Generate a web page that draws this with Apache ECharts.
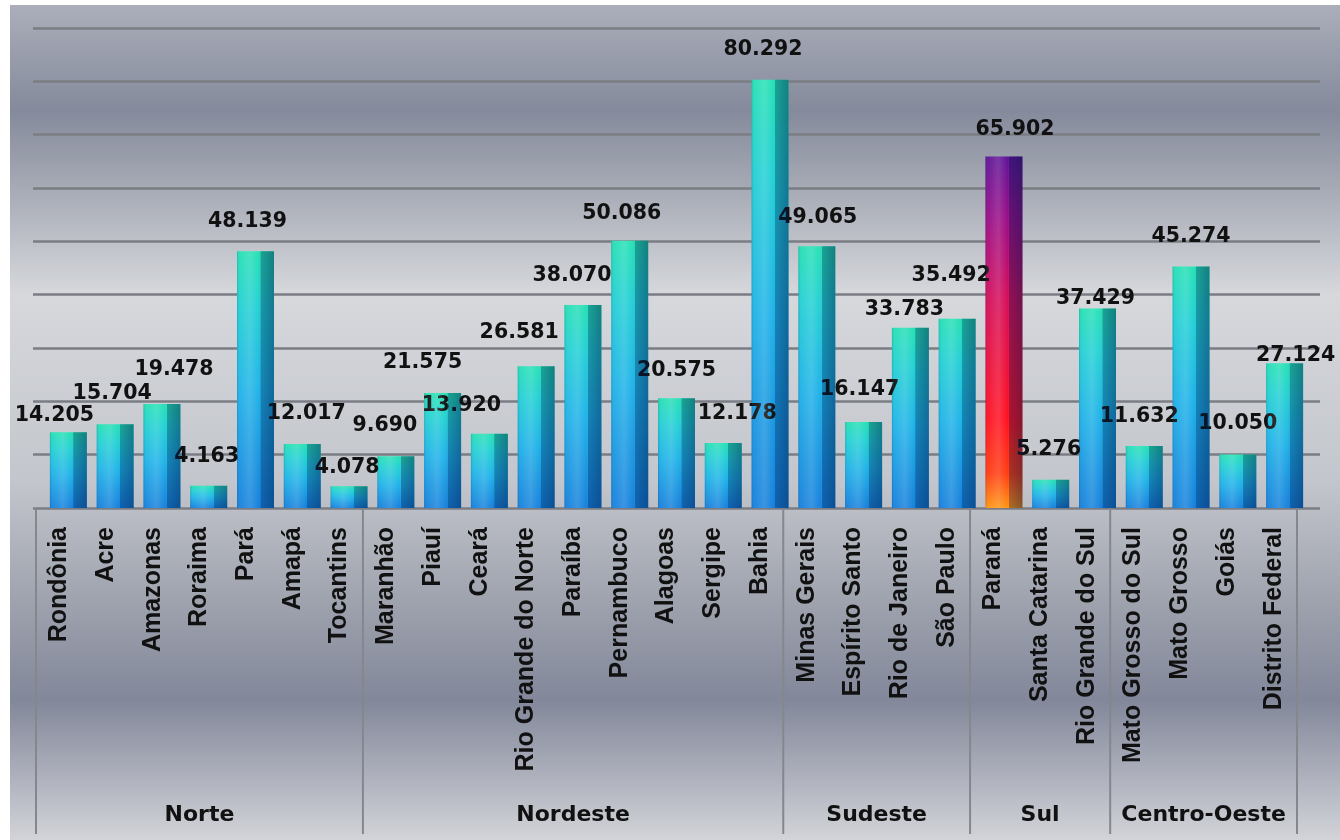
<!DOCTYPE html>
<html><head><meta charset="utf-8">
<script src="https://cdn.jsdelivr.net/npm/echarts@6/dist/echarts.min.js"></script>
<style>html,body{margin:0;padding:0;background:#fff}#c{width:1340px;height:840px}</style>
</head><body><div id="c"></div>
<script>
// ---- data ----
const categories = ['Rondônia','Acre','Amazonas','Roraima','Pará','Amapá','Tocantins',
  'Maranhão','Piauí','Ceará','Rio Grande do Norte','Paraíba','Pernambuco','Alagoas','Sergipe','Bahia',
  'Minas Gerais','Espírito Santo','Rio de Janeiro','São Paulo',
  'Paraná','Santa Catarina','Rio Grande do Sul',
  'Mato Grosso do Sul','Mato Grosso','Goiás','Distrito Federal'];
const values = [14205,15704,19478,4163,48139,12017,4078,
  9690,21575,13920,26581,38070,50086,20575,12178,80292,
  49065,16147,33783,35492,
  65902,5276,37429,
  11632,45274,10050,27124];
const regions = ['Norte','Nordeste','Sudeste','Sul','Centro-Oeste'];
const regionSizes = [7,9,4,3,4];
const highlighted = 'Paraná';
const yMin = 0, yMax = 90000, yStep = 10000;

// ---- layout: per-label nudges [dx, dy] in px (label placement as in the reference) ----
const labelNudge = [[-14,13],[-3,-1],[12,-5],[-2,0],[-8,0],[4,-1],[-2,11],
  [-11,-1],[-20,-1],[-28,1],[-17,-4],[-11,0],[-8,2],[0,2],[14,0],[-7,-1],
  [1,1],[-4,-3],[-6,11],[-6,-14],
  [11,3],[-2,-1],[-2,20],
  [-5,0],[0,0],[0,-1],[11,22]];

function fmt(v){ return String(v).replace(/\B(?=(\d{3})+(?!\d))/g,'.'); }

const G = echarts.graphic.LinearGradient;
const baseFill = new G(0,0,0,1,[
  {offset:0,color:'#24e0b4'},{offset:0.22,color:'#22d0d4'},{offset:0.55,color:'#1eb2e8'},{offset:1,color:'#1580dc'}]);
const hiFill = new G(0,0,0,1,[
  {offset:0,color:'#5e1296'},{offset:0.18,color:'#9a0c86'},{offset:0.4,color:'#d40c5a'},
  {offset:0.75,color:'#ff1020'},{offset:0.9,color:'#ff3a10'},{offset:1,color:'#ff9412'}]);
const shade = new G(0,0,1,0,[
  {offset:0,color:'rgba(0,40,90,0.18)'},{offset:0.08,color:'rgba(255,255,255,0.05)'},
  {offset:0.35,color:'rgba(255,255,255,0.16)'},{offset:0.62,color:'rgba(255,255,255,0.0)'},
  {offset:0.64,color:'rgba(0,25,70,0.3)'},{offset:1,color:'rgba(0,25,70,0.48)'}]);

const barData = values.map((v,i)=>({
  value: v,
  itemStyle: {color: categories[i]===highlighted ? hiFill : baseFill},
  label: {offset: labelNudge[i]}
}));

let s = 0;
const regionData = regionSizes.map((n,i)=>{ const d=[s, s+n-1]; s+=n; return d; });

const gTop = 28, gBottom = 332;
const option = {
  animation: false,
  backgroundColor: '#ffffff',
  graphic: [{
    type:'rect', z:-100, silent:true,
    shape:{x:10,y:5,width:1330,height:835},
    style:{fill:new G(0,0,0,1,[
      {offset:0,color:'#abafba'},{offset:0.126,color:'#858a9c'},{offset:0.21,color:'#a3a7b2'},
      {offset:0.347,color:'#d6d8dc'},{offset:0.569,color:'#c3c6cc'},{offset:0.713,color:'#9fa3ae'},
      {offset:0.832,color:'#82879a'},{offset:1,color:'#d2d4d8'}])}
  }],
  grid: [
    {left:33, right:20, top:gTop, bottom:gBottom},
    {left:45, right:32, top:gTop, bottom:gBottom},
    {left:36, right:43, top:gTop, bottom:gBottom}
  ],
  xAxis: [
    {gridIndex:0, type:'category', data:categories, show:false},
    {gridIndex:1, type:'category', data:categories, show:false},
    {gridIndex:2, type:'category', data:categories,
      axisLine:{show:false}, axisTick:{show:false},
      axisLabel:{interval:0, rotate:90, margin:19, color:'#111',
        fontFamily:'Liberation Sans', fontWeight:'bold', fontSize:25}}
  ],
  yAxis: [
    {gridIndex:0, type:'value', min:yMin, max:yMax, interval:yStep,
      axisLine:{show:false}, axisTick:{show:false}, axisLabel:{show:false},
      splitLine:{lineStyle:{color:'#7b7d84', width:2.5}}},
    {gridIndex:1, type:'value', min:yMin, max:yMax, interval:yStep, show:false, splitLine:{show:false}},
    {gridIndex:2, type:'value', min:yMin, max:yMax, interval:yStep, show:false, splitLine:{show:false}}
  ],
  series: [
    {type:'bar', xAxisIndex:1, yAxisIndex:1, data:barData, barWidth:37, z:3,
      label:{show:true, position:'top', distance:19, color:'#111',
        fontFamily:'DejaVu Sans', fontWeight:'bold', fontSize:20.5,
        formatter:p=>fmt(p.value)}},
    {type:'bar', xAxisIndex:1, yAxisIndex:1, data:values, barWidth:37, barGap:'-100%', z:4,
      silent:true, itemStyle:{color:shade}, label:{show:false}},
    {type:'custom', xAxisIndex:2, yAxisIndex:2, silent:true, clip:false, z:5,
      data: regionData, encode:{x:[0,1]},
      renderItem(params, api){
        const a = api.value(0), b = api.value(1);
        const bw = api.size([1,0])[0];
        const p0 = api.coord([a,0]), p1 = api.coord([b,0]);
        const x0 = p0[0]-bw/2, x1 = p1[0]+bw/2, y0 = p0[1];
        const ls = {stroke:'#85878d', lineWidth:2};
        const ch = [];
        if (params.dataIndex===0) ch.push({type:'line', shape:{x1:x0,y1:y0,x2:x0,y2:y0+326}, style:ls});
        ch.push({type:'line', shape:{x1:x1,y1:y0,x2:x1,y2:y0+326}, style:ls});
        ch.push({type:'text', style:{text:regions[params.dataIndex], x:(x0+x1)/2, y:y0+307,
          align:'center', verticalAlign:'middle', font:'bold 22px "DejaVu Sans"', fill:'#111'}});
        return {type:'group', children:ch};
      }}
  ]
};
const chart = echarts.init(document.getElementById('c'), null, {renderer:'canvas'});
chart.setOption(option);
</script>
</body></html>
